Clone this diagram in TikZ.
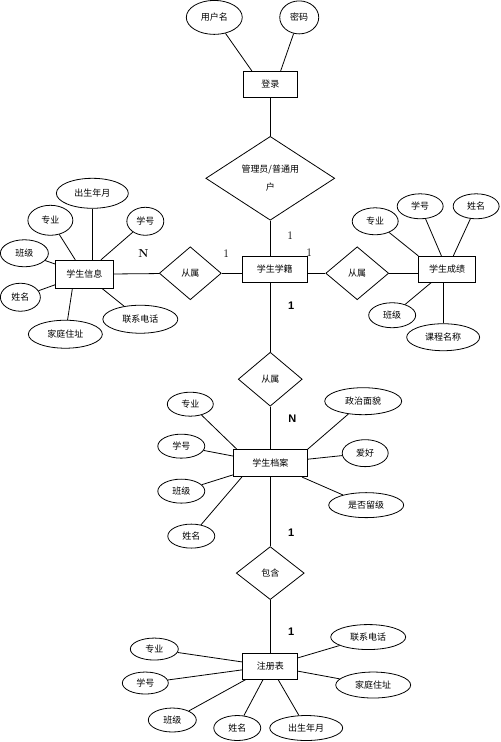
\documentclass[tikz,border=0pt]{standalone}
\usepackage{fontspec}
\newfontfamily\cjk{Noto Sans CJK SC}
\newfontfamily\labfont{Liberation Sans}
\usetikzlibrary{shapes.geometric}
\begin{document}
\begin{tikzpicture}[x=1pt,y=-1pt,line width=0.8pt,
  every node/.style={font=\cjk\fontsize{9}{10}\selectfont, inner sep=0pt},
  attr/.style={draw, ellipse, minimum width=46pt, minimum height=25pt},
  wattr/.style={attr, minimum width=75pt},
  entity/.style={draw, rectangle, minimum width=56pt, minimum height=26pt},
  rel/.style={draw, diamond, minimum width=64pt, minimum height=53pt},
  card/.style={font=\rmfamily\fontsize{11.5}{12}\selectfont},
  bcard/.style={font=\labfont\bfseries\fontsize{11}{12}\selectfont}]
\path[fill=white] (0,0) rectangle (500,742);
% login
\node[attr, minimum width=56pt, minimum height=34pt] (uname) at (214,17) {用户名};
\node[attr, minimum width=39pt, minimum height=33pt] (pwd) at (299,17) {密码};
\node[entity, minimum width=54pt] (login) at (270,84) {登录};
\node[rel, minimum width=129pt, minimum height=70pt, align=center, font=\cjk\fontsize{9}{18}\selectfont] (role) at (270,178) {管理员/普通用\\户};
\draw (uname) -- ([xshift=9pt]login.north west);
\draw (pwd) -- ([xshift=-17pt]login.north east);
\draw (login) -- (role);
% student status
\node[entity, minimum width=65pt] (xj) at (274.5,269) {学生学籍};
\draw (role) -- (role |- xj.north);
\node[card] (c1) at (290,235) {1};
\node[card] (c2) at (226,253) {1};
\node[card] (c3) at (309,252) {1};
% student info
\node[rel, minimum width=62pt] (lrel) at (190,273) {从属};
\node[entity, minimum width=58pt, minimum height=28pt] (info) at (84,274) {学生信息};
\draw (lrel) -- (lrel -| xj.west);
\draw (info) -- (lrel);
\node[card, font=\rmfamily\bfseries\fontsize{11.5}{12}\selectfont] (cN1) at (143,253) {N};
\node[wattr, minimum width=72pt, minimum height=30pt] (ibirth) at (92,193) {出生年月};
\node[attr, minimum width=45pt, minimum height=30pt] (imajor) at (50,220) {专业};
\node[attr, minimum width=37pt, minimum height=28pt] (ino) at (145,221) {学号};
\node[attr, minimum width=48pt, minimum height=27pt] (iclass) at (24,253) {班级};
\node[attr, minimum width=40pt, minimum height=28pt] (iname) at (20,297) {姓名};
\node[wattr, minimum width=74pt, minimum height=28pt] (ihome) at (65,334) {家庭住址};
\node[wattr, minimum height=28pt] (itel) at (140,319) {联系电话};
\draw (ibirth) -- (ibirth |- info.north);
\draw (imajor) -- (info);
\draw (ino) -- (info);
\draw (iclass) -- (info);
\draw (iname) -- (info);
\draw (ihome) -- ([xshift=-12pt]info.south);
\draw (itel) -- (info);
% student scores
\node[rel, minimum width=63pt] (rrel) at (357,273) {从属};
\node[entity, minimum width=57pt] (score) at (447,269) {学生成绩};
\draw (xj.east |- rrel) -- (rrel);
\draw (rrel) -- (rrel -| score.west);
\node[attr, minimum height=27pt] (smajor) at (375,221) {专业};
\node[attr] (sno) at (420,206) {学号};
\node[attr] (sname) at (476,206) {姓名};
\node[attr, minimum width=47pt] (sclass) at (392,315) {班级};
\node[wattr, minimum width=73pt, minimum height=27pt] (scourse) at (443,337) {课程名称};
\draw (smajor) -- (score.north west);
\draw (sno) -- (score);
\draw (sname) -- (score);
\draw (sclass) -- (score);
\draw (scourse) -- (scourse |- score.south);
% student file
\node[rel, minimum height=54pt] (crel) at (270,379) {从属};
\node[entity, minimum width=74pt, minimum height=27pt] (file) at (270,463) {学生档案};
\draw (crel) -- (crel |- xj.south);
\draw (crel) -- (file);
\node[bcard] (c4) at (291,305) {1};
\node[bcard] (cN2) at (292,419) {N};
\node[attr, minimum height=24pt] (fmajor) at (190,404) {专业};
\node[attr, minimum width=47pt, minimum height=24pt] (fno) at (181,446) {学号};
\node[attr, minimum width=47pt, minimum height=24pt] (fclass) at (181,491) {班级};
\node[attr, minimum width=47pt, minimum height=24pt] (fname) at (191,536) {姓名};
\node[wattr, minimum width=77pt, minimum height=27pt] (fpol) at (363,401) {政治面貌};
\node[attr, minimum height=27pt] (fhobby) at (365,453) {爱好};
\node[wattr] (fstay) at (366,505) {是否留级};
\draw (fmajor) -- ([xshift=4pt]file.north west);
\draw (fno) -- (file);
\draw (fclass) -- (file);
\draw (fname) -- ([xshift=9pt]file.south west);
\draw (fpol) -- (file.north east);
\draw (fhobby) -- (file);
\draw (fstay) -- (file);
% registration
\node[rel, minimum width=68pt] (incl) at (270,573) {包含};
\node[entity, minimum width=55pt] (reg) at (270,666) {注册表};
\draw (file) -- (incl);
\draw (incl) -- (reg);
\node[bcard] (c5) at (291,533) {1};
\node[bcard] (c6) at (291,632) {1};
\node[attr, minimum width=48pt, minimum height=22pt] (rmajor) at (154,649) {专业};
\node[attr, minimum height=22pt] (rno) at (145,683) {学号};
\node[attr, minimum width=48pt, minimum height=24pt] (rclass) at (172,720) {班级};
\node[attr, minimum width=47pt] (rname) at (237,728) {姓名};
\node[wattr, minimum width=73pt] (rbirth) at (306,728) {出生年月};
\node[wattr] (rtel) at (368,637) {联系电话};
\node[wattr, minimum height=26pt] (rhome) at (373,685) {家庭住址};
\draw (rmajor) -- (reg);
\draw (rno) -- (reg);
\draw (rclass) -- (reg);
\draw (rname) -- (reg);
\draw (rbirth) -- (reg);
\draw (rtel) -- (reg);
\draw (rhome) -- (reg);
\end{tikzpicture}
\end{document}
